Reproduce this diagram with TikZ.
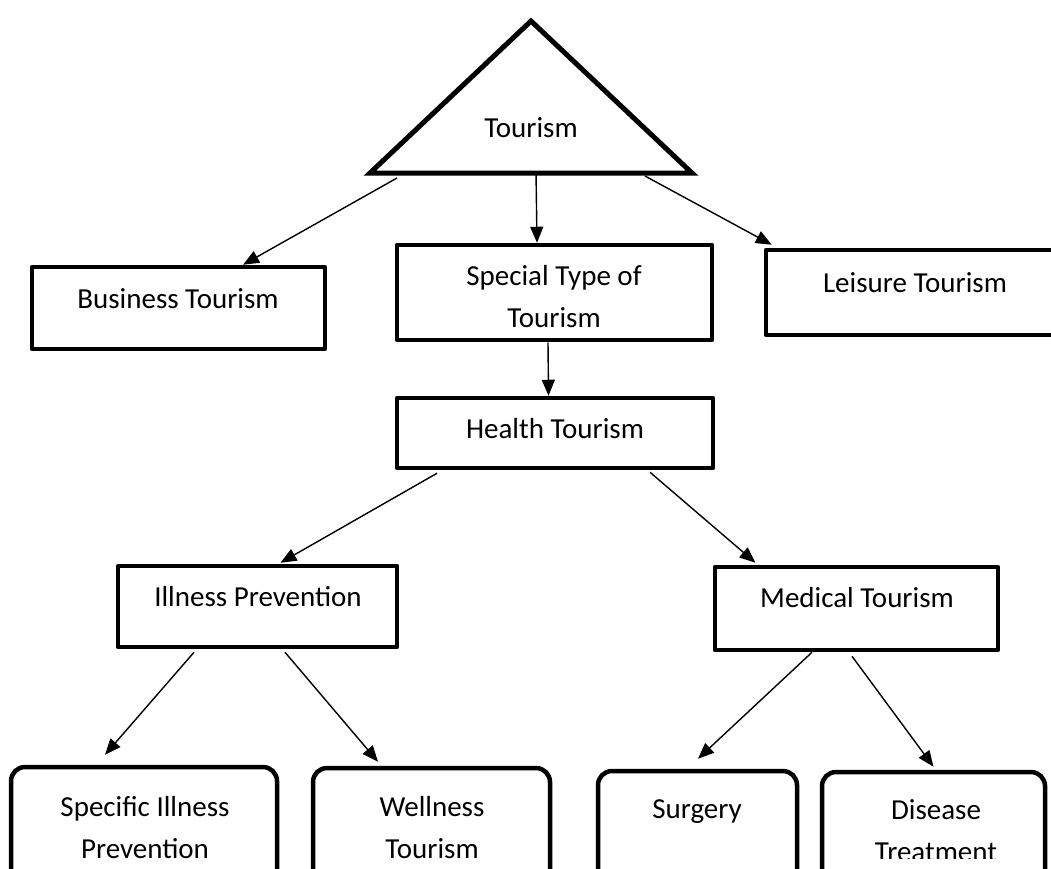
\documentclass[tikz,border=0pt]{standalone}
\usepackage{fontspec}
\setmainfont{Carlito}
\usetikzlibrary{arrows.meta,calc}
\begin{document}
\begin{tikzpicture}[x=1pt,y=-1pt,
  boxshape/.style={draw, line width=4.5pt, line join=round, rectangle, inner sep=0pt},
  roundbox/.style={draw, line width=4.5pt, rounded corners=14pt, rectangle, inner sep=0pt},
  lbl/.style={font=\fontsize{29}{42}\selectfont, align=center, anchor=base, inner sep=0pt},
  arr/.style={line width=1.4pt, -{Triangle[length=16pt,width=13pt]}}
]
\useasboundingbox (0,0) rectangle (1051,868);
\clip (0,0) rectangle (1051,868);

% triangle
\draw[line width=5pt, line join=miter] (531,21) -- (692,173) -- (370,173) -- cycle;
\node[lbl] (tri) at (531,137) {Tourism};
\coordinate (tbl) at (397,178);
\coordinate (tbm) at (536,172);
\coordinate (tbr) at (645,176);

% boxes
\node[boxshape, minimum width=293, minimum height=82] (bus) at (178.5,308) {};
\node[boxshape, minimum width=315, minimum height=95] (spec) at (554.5,292.5) {};
\node[boxshape, minimum width=298, minimum height=85] (leis) at (915,292.5) {};
\node[boxshape, minimum width=316, minimum height=70] (health) at (555,433) {};
\node[boxshape, minimum width=279, minimum height=81] (ill) at (257.5,606.5) {};
\node[boxshape, minimum width=283, minimum height=83] (med) at (856.5,608.5) {};
\node[roundbox, minimum width=266, minimum height=133] (sip) at (144,833.5) {};
\node[roundbox, minimum width=237, minimum height=132] (well) at (431.5,834) {};
\node[roundbox, minimum width=199, minimum height=129] (surg) at (697.5,835.5) {};
\node[roundbox, minimum width=223, minimum height=128] (dis) at (933.5,836) {};

% labels (multi-line nodes: base = last line)
\node[lbl] (busl) at (178,308) {Business Tourism};
\node[lbl] (specl) at (554,327) {Special Type of\\Tourism};
\node[lbl] (leisl) at (915,292) {Leisure Tourism};
\node[lbl] (healthl) at (555,438) {Health Tourism};
\node[lbl] (illl) at (258,606) {Illness Prevention};
\node[lbl] (medl) at (857,607) {Medical Tourism};
\node[lbl] (sipl) at (145,858) {Specific Illness\\Prevention};
\node[lbl] (welll) at (432,858) {Wellness\\Tourism};
\node[lbl] (surgl) at (697,818) {Surgery};
\begin{scope}
\clip (822,772) rectangle (1045,858);
\node[lbl] (disl) at (936,861) {Disease\\Treatment};
\end{scope}

% connectors
\draw[arr] (tbl) -- ([shift={(64.5,0)}]bus.north);
\draw[arr] (tbm) -- ([shift={(-17.5,0)}]spec.north);
\draw[arr] (tbr) -- ([shift={(8,-3)}]leis.north west);
\draw[arr] ([shift={(-6.5,0)}]spec.south) -- ([shift={(-6.5,0)}]health.north);
\draw[arr] ([shift={(-118,3)}]health.south) -- ([shift={(23,-1)}]ill.north);
\draw[arr] ([shift={(95,2)}]health.south) -- ([shift={(-101,-2)}]med.north);
\draw[arr] ([shift={(-63.5,3)}]ill.south) -- ([shift={(-39,-10)}]sip.north);
\draw[arr] ([shift={(27.5,3)}]ill.south) -- ([shift={(-53.5,-4)}]well.north);
\draw[arr] ([shift={(-44.5,0)}]med.south) -- ([shift={(0.5,-10)}]surg.north);
\draw[arr] ([shift={(-4.5,4)}]med.south) -- ([shift={(0,-3)}]dis.north);
\end{tikzpicture}
\end{document}
